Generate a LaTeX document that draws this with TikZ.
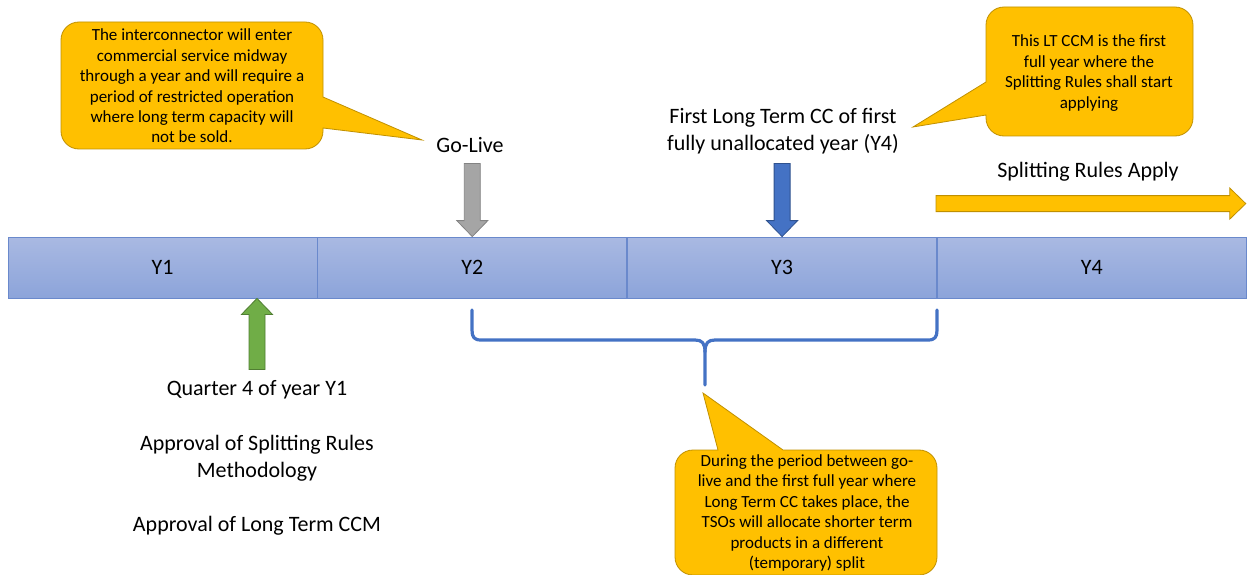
\documentclass[tikz,border=0pt]{standalone}
\usepackage{fontspec}
\setmainfont{Carlito}
\usetikzlibrary{calc}
\usetikzlibrary{positioning}

\tikzset{
  txt/.style={font=\fontsize{22}{27}\selectfont, align=center, inner sep=0pt},
  calltext/.style={font=\fontsize{17}{20.4}\selectfont, align=center, inner sep=0pt},
  year/.style={draw=BarEdge, line width=0.8pt, top color=BarTop, bottom color=BarBottom,
    minimum width=309pt, minimum height=61pt, inner sep=0pt, font=\fontsize{22}{27}\selectfont},
  callout/.style={fill=CalloutGold, draw=CalloutEdge, line width=0.8pt},
  spanbrace/.style={draw=BraceBlue, line width=3.2pt, line cap=round, line join=round}
}

% block arrow from #1 to #2, fill #3, edge #4
\newcommand{\blockarrow}[4]{%
  \coordinate (ba-h) at ($(#2)!16pt!(#1)$);
  \filldraw[fill=#3, draw=#4, line width=0.8pt]
    ($(#1)!8pt!90:(#2)$) -- ($(ba-h)!8pt!-90:(#1)$) -- ($(ba-h)!15.5pt!-90:(#1)$) -- (#2)
    -- ($(ba-h)!15.5pt!90:(#1)$) -- ($(ba-h)!8pt!90:(#1)$) -- ($(#1)!8pt!-90:(#2)$) -- cycle;
}

\begin{document}
\begin{tikzpicture}[x=1pt,y=-1pt]
\definecolor{CalloutGold}{HTML}{FFC000}
\definecolor{CalloutEdge}{HTML}{C09000}
\definecolor{BarTop}{HTML}{A9B9E2}
\definecolor{BarBottom}{HTML}{8CA4DA}
\definecolor{BarEdge}{HTML}{6A89CC}
\definecolor{BraceBlue}{HTML}{4472C4}
\definecolor{GoGray}{HTML}{A5A5A5}
\definecolor{GoGrayEdge}{HTML}{838383}
\definecolor{CCBlue}{HTML}{4472C4}
\definecolor{CCBlueEdge}{HTML}{2F528F}
\definecolor{QGreen}{HTML}{70AD47}
\definecolor{QGreenEdge}{HTML}{507E32}

\useasboundingbox (0,0) rectangle (1253,575);

% timeline
\node[year] (Y1) at (162.5,267.5) {Y1};
\node[year, right=0pt of Y1] (Y2) {Y2};
\node[year, right=0pt of Y2] (Y3) {Y3};
\node[year, right=0pt of Y3] (Y4) {Y4};

% labels
\node[txt] (golive) at (470,145) {Go-Live};
\node[txt] (firstcc) at (783,131) {First Long Term CC of first\\fully unallocated year (Y4)};
\node[txt] (rulesapply) at (1088,172) {Splitting Rules Apply};
\node[txt] (q4) at (257,390) {Quarter 4 of year Y1};
\node[txt] (approvalsr) at (257,458) {Approval of Splitting Rules\\Methodology};
\node[txt] (approvalccm) at (257,526) {Approval of Long Term CCM};

% arrows onto the timeline
\coordinate (gostart) at ($(Y2.north)+(0,-73)$);
\blockarrow{gostart}{Y2.north}{GoGray}{GoGrayEdge}
\coordinate (ccstart) at ($(Y3.north)+(0,-73)$);
\blockarrow{ccstart}{Y3.north}{CCBlue}{CCBlueEdge}
\coordinate (q4tip) at ($(Y1.south)+(94.5,0)$);
\coordinate (q4start) at ($(q4tip)+(0,71)$);
\blockarrow{q4start}{q4tip}{QGreen}{QGreenEdge}
\coordinate (applystart) at ($(Y4.north west)+(-1,-33)$);
\coordinate (applyend) at ($(Y4.north east)+(-1,-33)$);
\blockarrow{applystart}{applyend}{CalloutGold}{CalloutEdge}

% brace under Y2 -- Y3
\draw[spanbrace] (472,310) -- (472,330) .. controls (472,337) and (474,340) .. (481,340)
  -- (695,340) .. controls (702,340) and (705,343) .. (705,352) -- (705,385);
\draw[spanbrace] (937,310) -- (937,330) .. controls (937,337) and (935,340) .. (928,340)
  -- (715,340) .. controls (708,340) and (705,343) .. (705,352);

% callouts
\filldraw[callout] (79,22) -- (305,22) .. controls (315,22) and (323,30) .. (323,40)
  -- (323,97) -- (422,140) -- (323,128) -- (323,131) .. controls (323,141) and (315,149) .. (305,149)
  -- (79,149) .. controls (69,149) and (61,141) .. (61,131)
  -- (61,40) .. controls (61,30) and (69,22) .. (79,22) -- cycle;
\node[calltext] (note1) at (192,86) {The interconnector will enter\\commercial service midway\\through a year and will require a\\period of restricted operation\\where long term capacity will\\not be sold.};

\filldraw[callout] (1004,7) -- (1175,7) .. controls (1185,7) and (1193,15) .. (1193,25)
  -- (1193,118) .. controls (1193,128) and (1185,136) .. (1175,136)
  -- (1004,136) .. controls (994,136) and (986,128) .. (986,118)
  -- (986,115) -- (913,127) -- (986,82)
  -- (986,25) .. controls (986,15) and (994,7) .. (1004,7) -- cycle;
\node[calltext] (note2) at (1089,73) {This LT CCM is the first\\full year where the\\Splitting Rules shall start\\applying};

\filldraw[callout] (693,450) -- (718,450) -- (703,393) -- (783,450)
  -- (919,450) .. controls (929,450) and (937,458) .. (937,468)
  -- (937,557) .. controls (937,567) and (929,575) .. (919,575)
  -- (693,575) .. controls (683,575) and (675,567) .. (675,557)
  -- (675,468) .. controls (675,458) and (683,450) .. (693,450) -- cycle;
\node[calltext] (note3) at (807,513) {During the period between go-\\live and the first full year where\\Long Term CC takes place, the\\TSOs will allocate shorter term\\products in a different\\(temporary) split};

\end{tikzpicture}
\end{document}
